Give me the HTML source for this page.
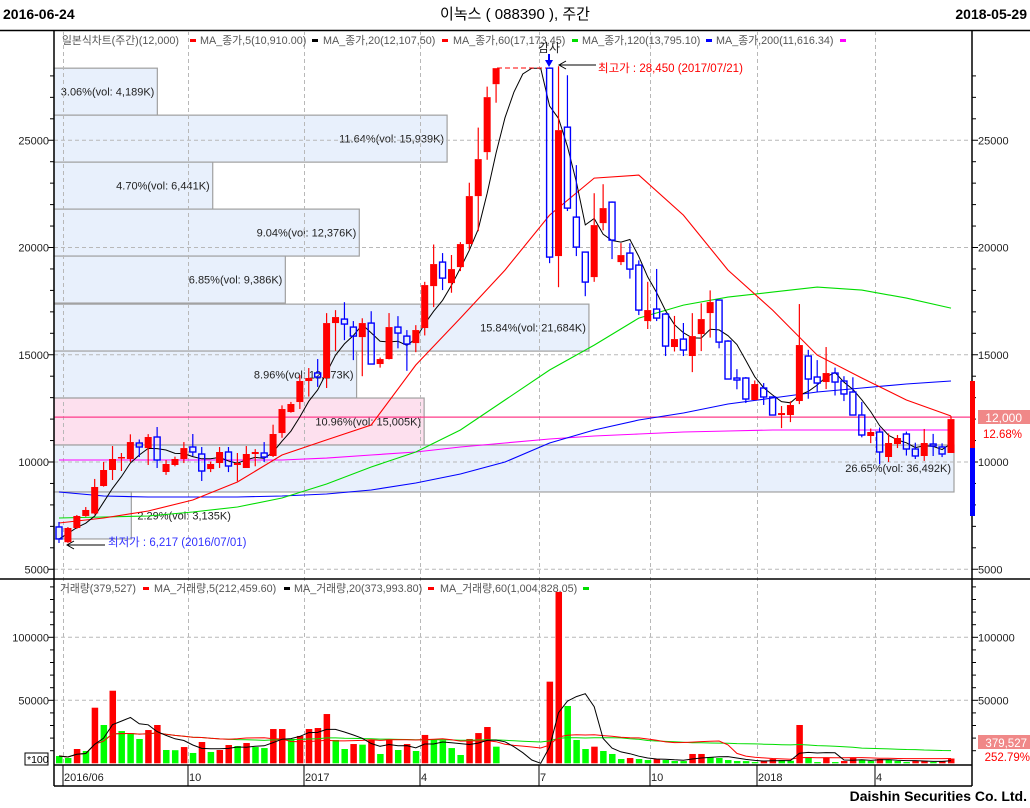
<!DOCTYPE html>
<html><head><meta charset="utf-8"><style>
html,body{margin:0;padding:0;background:#fff;}
svg{display:block;font-family:"Liberation Sans","Noto Sans CJK KR",sans-serif;}
</style></head><body>
<svg id="chart" width="1030" height="808" viewBox="0 0 1030 808">
<g>
<text x="3" y="19" font-size="14" font-weight="bold" fill="#000">2016-06-24</text>
<text x="515" y="19" font-size="15" text-anchor="middle" fill="#000">이녹스 ( 088390 ), 주간</text>
<text x="1027" y="19" font-size="14" font-weight="bold" text-anchor="end" fill="#000">2018-05-29</text>
<line x1="0" y1="30.5" x2="1030" y2="30.5" stroke="#000" stroke-width="1.5"/>
</g>
<g id="boxes"></g>
<g id="grid"></g>
<g id="mas"></g>
<g id="candles"></g>
<g id="vol"></g>
<g id="axes"></g>
<g id="annot"></g>
</svg>
<script>
// ---------- data ----------
const opens=[6971,6260,6924,7484,7600,8880,9627,10187,10140,10885,10650,11165,9534,9860,10140,10700,10373,9670,9953,10466,9860,9720,10373,10420,10280,11350,12330,12796,13775,14150,13915,16477,16663,16290,15823,16477,14567,14800,16290,15870,15544,16245,18200,19320,18340,19087,20159,22396,24446,27615,null,null,null,null,null,28360,19600,25610,21417,19786,18620,21137,22115,19320,19740,19180,16570,17130,16897,15360,15730,14940,15964,16943,17550,15637,13915,13915,12890,13450,13030,12190,12190,12843,14940,13962,13728,14147,13775,13262,12190,11212,11398,10233,10839,11305,10606,10280,10839,10700,10420];
const highs=[7204,6970,7530,7900,9210,10000,10745,10420,11290,11050,11300,11631,10093,10250,10930,11305,10700,10020,10700,10700,10420,10745,10600,10930,11740,12640,12800,14050,14380,14800,16940,17080,17450,16570,16700,17030,14870,16943,16800,16150,16380,18400,20140,19740,19650,20250,23020,25590,27500,28360,null,null,null,null,null,28400,28450,28030,23840,19800,22530,22950,22150,20205,20200,19400,18400,19000,16950,16810,16480,16940,17400,18000,17550,15680,14330,13960,13800,13680,13050,12610,12830,17363,15230,14750,15360,14400,14000,13950,12800,11560,11610,11330,11260,11420,10900,11540,11310,10870,12140];
const lows=[6225,6217,6880,7450,7550,8850,9160,9580,10000,10233,9860,9720,9400,9800,9950,10280,9115,9530,9720,9530,9100,9720,9800,10000,10233,11130,12300,12470,13050,13500,13450,15180,15680,14750,14000,14567,14400,14780,15300,14250,15120,15900,17220,18015,17890,18900,19900,20760,24090,26750,null,null,null,null,null,19270,18150,21700,19600,17730,18400,20800,19460,19180,18550,16850,16200,16570,14940,15150,14940,14190,15170,15800,15300,13870,13390,12750,12880,12660,12190,11580,11860,12700,12950,13250,13400,13100,12840,12190,11150,10880,9900,10000,10650,10300,10140,10050,10280,10230,10420];
const closes=[6412,6924,7484,7763,8835,9627,10140,10233,10930,10700,11165,10093,9907,10140,10650,10466,9580,9907,10466,9813,9953,10373,10466,10233,11305,12470,12703,13775,13915,13960,16477,16757,16431,15870,16477,14567,14800,16290,16011,15500,16151,18248,19227,18574,18993,20159,22396,24120,27009,28360,null,null,null,null,null,19553,25471,21836,20019,18388,21044,21836,20345,19646,18993,17083,17083,16710,15405,15730,15220,15870,16663,17456,15590,13868,13822,12936,13635,13030,12190,12283,12656,15452,13868,13682,14147,13728,13170,12190,11258,11398,10466,10885,11118,10606,10280,10885,10745,10373,12000];
const volumes=[5800,4200,11350,9760,44130,30400,57600,25600,24000,19300,26400,30400,10560,10400,12900,8200,16900,9000,10560,14500,13700,16100,12900,12100,27200,27200,18500,21700,27200,28000,39100,18500,11350,15300,14800,18500,7400,18500,10560,15300,9760,22500,18500,18300,12100,6600,19300,24000,28800,13200,0,0,0,0,0,64800,136000,45500,18500,11350,13200,9760,7400,3400,4200,3400,2600,3400,2600,1800,1750,7400,7400,5000,4200,2600,1800,1750,1000,1800,3400,2600,2000,30400,5000,1000,4200,1000,1800,4200,2600,1800,3400,2600,1800,1000,1800,1850,1000,1800,3795];
const maSampleIdx=[0,5,10,15,20,25,30,35,40,45,50,55,60,65,70,75,80,85,90,95,100];
const ma20Vals=[7157,7390,7717,8230,9068,10326,11030,11724,14520,16710,18947,21510,23234,23374,21510,18947,17083,14986,13914,12890,12144];
const ma60Vals=[7390,7437,7484,7670,7903,8322,8975,9767,10466,11491,12890,14287,15452,16710,17316,17689,17922,18155,18015,17642,17176];
const ma120Vals=[8602,8416,8369,8369,8369,8416,8509,8695,9021,9441,10000,10885,11491,11957,12283,12703,12982,13262,13448,13635,13775];
const ma200Vals=[10093,10093,10093,10093,10093,10093,10180,10326,10466,10700,10885,11072,11212,11305,11398,11445,11491,11491,11491,11491,11491];
const priceTicks=[5000,10000,15000,20000,25000];
const volTicks=[50000,100000];
const monthLabels=["2016/06","10","2017","4","7","10","2018","4"];
const monthIdx=[0.5,14.5,27.5,40.5,53.8,66.3,78.3,91.5];
// price-by-volume profile
const pvLow=[26170,23980,21790,19600,17410,15170,12983,10792,8602,6412];
const pvPct=[3.06,11.64,4.70,9.04,6.85,15.84,8.96,10.96,26.65,2.29];
const pvVol=["4,189","15,939","6,441","12,376","9,386","21,684","12,273","15,005","36,492","3,135"];
const currentPrice=12000;

// ---------- scales ----------
const L=54,R=972;
const X=i=>59+i*8.92;
const Y=p=>462-(p-10000)*0.02145;
const YV=v=>763.3-v*63/50000;
const NS="http://www.w3.org/2000/svg";
function mk(tag,parent,attrs){const e=document.createElementNS(NS,tag);for(const k in attrs)e.setAttribute(k,attrs[k]);parent.appendChild(e);return e;}

// ---------- profile boxes ----------
const gb=document.getElementById('boxes');
const maxPct=26.65;
pvLow.forEach((lo,k)=>{
  const y1=Y(lo+2190),y2=Y(lo);
  const w=(pvPct[k]/maxPct)*900;
  const pink=(currentPrice>=lo&&currentPrice<lo+2190);
  const r=mk('rect',gb,{x:L,y:y1,width:w,height:y2-y1,fill:pink?'#fde0ee':'#e8f0fc',stroke:'#a0a0a0','stroke-width':1.2});
  
  
  const label=pvPct[k].toFixed(2)+'%(vol: '+pvVol[k]+'K)';
  const tw=label.length*5.2;
  let tx,anchor;
  if(tw+6<w){tx=L+w-3;anchor='end';}else{tx=L+w+6;anchor='start';}
  const t=mk('text',gb,{x:tx,y:(k===8?y1+27:(y1+y2)/2+4),'font-size':11,'text-anchor':anchor,fill:'#222'});
  t.textContent=label;
  
  
});

// ---------- grid ----------
const gg=document.getElementById('grid');
priceTicks.forEach(p=>{mk('line',gg,{x1:L,x2:R,y1:Y(p),y2:Y(p),stroke:'#b8b8b8','stroke-dasharray':'4,3'});});
volTicks.forEach(v=>{mk('line',gg,{x1:L,x2:R,y1:YV(v),y2:YV(v),stroke:'#b8b8b8','stroke-dasharray':'4,3'});});
monthIdx.forEach(m=>{const x=Math.round(X(m))+0.5;mk('line',gg,{x1:x,x2:x,y1:31,y2:765,stroke:'#b8b8b8','stroke-dasharray':'4,3'});});
const cp=mk('line',gg,{x1:L,x2:R,y1:Y(currentPrice)-2,y2:Y(currentPrice)-2,stroke:'#ff3b8a','stroke-width':1.2});



// ---------- moving averages ----------
const gm=document.getElementById('mas');
function polySampled(vals,color,name){
  const pts=maSampleIdx.map((i,k)=>X(i).toFixed(1)+','+Y(vals[k]).toFixed(1)).join(' ');
  const pl=mk('polyline',gm,{points:pts,fill:'none',stroke:color,'stroke-width':1.1});
  
  
}
polySampled(ma200Vals,'#ff00ff','ma200-line');
polySampled(ma120Vals,'#0000ff','ma120-line');
polySampled(ma60Vals,'#00dd00','ma60-line');
polySampled(ma20Vals,'#ff0000','ma20-line');
const filled=[];let last=closes[0];
closes.forEach(c=>{if(c!=null)last=c;filled.push(last);});
const ma5=filled.map((c,i)=>{const s=filled.slice(Math.max(0,i-4),i+1);return s.reduce((a,b)=>a+b,0)/s.length;});
const ma5pl=mk('polyline',gm,{points:ma5.map((v,i)=>X(i).toFixed(1)+','+Y(v).toFixed(1)).join(' '),fill:'none',stroke:'#000','stroke-width':1});



// ---------- candles ----------
const gc=document.getElementById('candles');
closes.forEach((c,i)=>{
  if(c==null)return;
  const o=opens[i],x=X(i);
  const up=c>=o;
  const col=up?'#ff0000':'#0000ff';
  const g=mk('g',gc,{});
  
  
  const top=Y(Math.max(o,c)),bot=Y(Math.min(o,c));
  mk('line',g,{x1:x,x2:x,y1:Y(highs[i]),y2:top,stroke:col,'stroke-width':1.2});
  mk('line',g,{x1:x,x2:x,y1:bot,y2:Y(lows[i]),stroke:col,'stroke-width':1.2});
  if(up)mk('rect',g,{x:x-3.5,y:top,width:7,height:Math.max(1.5,bot-top),fill:col});
  else mk('rect',g,{x:x-3,y:top,width:6,height:Math.max(1,bot-top),fill:'none',stroke:col,'stroke-width':1.4});
});

// ---------- volume ----------
const gv=document.getElementById('vol');
volumes.forEach((v,i)=>{
  if(!v)return;
  const up=i===0?false:v>=volumes[i-1];
  const r=mk('rect',gv,{x:X(i)-3,y:YV(v),width:6.5,height:763.3-YV(v),fill:up?'#ff0000':'#00ff00'});
  
  
});
function volMA(n){return volumes.map((v,i)=>{const s=volumes.slice(Math.max(0,i-n+1),i+1);return s.reduce((a,b)=>a+b,0)/s.length;});}
[[60,'#00dd00','vol-ma60-line'],[20,'#ff0000','vol-ma20-line'],[5,'#000','vol-ma5-line']].forEach(([n,col,name])=>{
  const m=volMA(n);
  const pl=mk('polyline',gv,{points:m.map((v,i)=>X(i).toFixed(1)+','+YV(v).toFixed(1)).join(' '),fill:'none',stroke:col,'stroke-width':1});
  
  
});

// ---------- axes ----------
const ga=document.getElementById('axes');
mk('line',ga,{x1:L,x2:L,y1:31,y2:786,stroke:'#000','stroke-width':1.5});
mk('line',ga,{x1:R,x2:R,y1:31,y2:786,stroke:'#000','stroke-width':1.5});
mk('line',ga,{x1:0,x2:1030,y1:579,y2:579,stroke:'#000','stroke-width':1.5});
mk('line',ga,{x1:L,x2:R,y1:765,y2:765,stroke:'#000','stroke-width':1.5});
mk('line',ga,{x1:L,x2:R,y1:786,y2:786,stroke:'#000','stroke-width':1.5});
for(let p=5000;p<=28000;p+=1000){const y=Y(p);const maj=p%5000===0;
  mk('line',ga,{x1:L-(maj?6:4),x2:L,y1:y,y2:y,stroke:'#000'});
  mk('line',ga,{x1:R,x2:R+(maj?6:4),y1:y,y2:y,stroke:'#000'});}
priceTicks.forEach(p=>{
  const t1=mk('text',ga,{x:L-5,y:Y(p)+4,'font-size':11,'text-anchor':'end',fill:'#222'});t1.textContent=p;
  
  
  const t2=mk('text',ga,{x:R+6,y:Y(p)+4,'font-size':11,fill:'#222'});t2.textContent=p;
  
  
});
for(let v=10000;v<=140000;v+=10000){const y=YV(v);const maj=v%50000===0;
  mk('line',ga,{x1:L-(maj?6:4),x2:L,y1:y,y2:y,stroke:'#000'});
  mk('line',ga,{x1:R,x2:R+(maj?6:4),y1:y,y2:y,stroke:'#000'});}
volTicks.forEach(v=>{
  const t1=mk('text',ga,{x:L-5,y:YV(v)+4,'font-size':11,'text-anchor':'end',fill:'#222'});t1.textContent=v;
  
  
  const t2=mk('text',ga,{x:R+6,y:YV(v)+4,'font-size':11,fill:'#222'});t2.textContent=v;
  
  
});
monthIdx.forEach((m,k)=>{
  const x=Math.round(X(m));
  mk('line',ga,{x1:x,x2:x,y1:765,y2:786,stroke:'#000','stroke-width':1});
  const t=mk('text',ga,{x:x+1,y:781,'font-size':11,fill:'#222'});t.textContent=monthLabels[k];
  
  
});
</script>
<script>
(function(){
const g=document.getElementById('annot');
g.innerHTML=`
<g font-size="10.8">
<text x="62" y="44" fill="#555">일본식차트(주간)(12,000)</text>
<rect x="190" y="39" width="6" height="3" fill="#f00"/><text x="200" y="44" fill="#555">MA_종가,5(10,910.00)</text>
<rect x="312" y="39" width="6" height="3" fill="#000"/><text x="323" y="44" fill="#555">MA_종가,20(12,107,50)</text>
<rect x="442" y="39" width="6" height="3" fill="#f00"/><text x="453" y="44" fill="#555">MA_종가,60(17,173.45)</text>
<rect x="572" y="39" width="6" height="3" fill="#0d0"/><text x="582" y="44" fill="#555">MA_종가,120(13,795.10)</text>
<rect x="706" y="39" width="6" height="3" fill="#00f"/><text x="716" y="44" fill="#555">MA_종가,200(11,616.34)</text>
<rect x="840" y="39" width="6" height="3" fill="#f0f"/>
</g>
<g font-size="10.8">
<text x="60" y="592" fill="#555">거래량(379,527)</text>
<rect x="143" y="587" width="6" height="3" fill="#f00"/><text x="154" y="592" fill="#555">MA_거래량,5(212,459.60)</text>
<rect x="284" y="587" width="6" height="3" fill="#000"/><text x="294" y="592" fill="#555">MA_거래량,20(373,993.80)</text>
<rect x="428" y="587" width="6" height="3" fill="#f00"/><text x="440" y="592" fill="#555">MA_거래량,60(1,004,828.05)</text>
<rect x="583" y="587" width="6" height="3" fill="#0d0"/>
</g>
<g>
<line x1="497" y1="68" x2="546" y2="68" stroke="#f00" stroke-dasharray="5,3"/>
<text x="538" y="52" font-size="12" fill="#222">감사</text>
<line x1="549" y1="54" x2="549" y2="62" stroke="#00f" stroke-width="2"/><polygon points="545,60 553,60 549,67" fill="#00f"/>
<line x1="560" y1="65" x2="596" y2="65" stroke="#000"/><polyline points="566,61 559,65 566,69" fill="none" stroke="#000"/>
<text x="598" y="72" font-size="11.5" fill="#f00">최고가 : 28,450 (2017/07/21)</text>
</g>
<g>
<line x1="68" y1="545" x2="105" y2="545" stroke="#000"/><polyline points="74,541 67,545 74,549" fill="none" stroke="#000"/>
<text x="108" y="546" font-size="11.5" fill="#33f">최저가 : 6,217 (2016/07/01)</text>
</g>
<g>
<rect x="970" y="381" width="5" height="67" fill="#f00"/>
<rect x="970" y="448" width="5" height="68" fill="#00f"/>
<rect x="978" y="410" width="52" height="14" fill="#f08888"/>
<text x="1022" y="422" font-size="12" text-anchor="end" fill="#fff">12,000</text>
<text x="1022" y="438" font-size="11.5" text-anchor="end" fill="#f00">12.68%</text>
<rect x="978" y="735" width="52" height="14" fill="#f08888"/>
<text x="1027" y="747" font-size="11.5" text-anchor="end" fill="#fff">379,527</text>
<text x="1030" y="761" font-size="11.5" text-anchor="end" fill="#f00">252.79%</text>
</g>
<g>
<rect x="25" y="753" width="23" height="12" fill="#fff" stroke="#000"/>
<text x="27" y="763" font-size="10.5" fill="#000">*100</text>
</g>
<text x="1027" y="801" font-size="14" font-weight="bold" text-anchor="end" fill="#000">Daishin Securities Co. Ltd.</text>`;
})();
</script>
</body></html>
